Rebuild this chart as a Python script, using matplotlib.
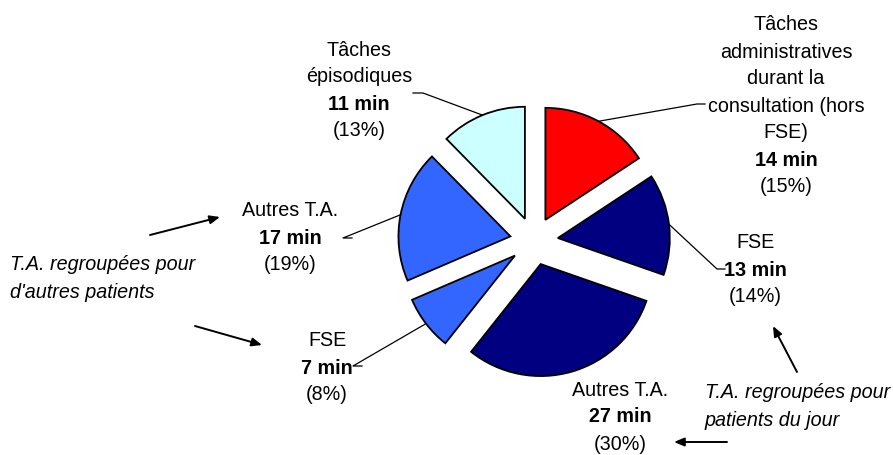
#!/usr/bin/env python3

import numpy as np
import matplotlib.pyplot as plt

# slices, clockwise from 12 o'clock
minutes = [14, 13, 27, 7, 17, 11]
percents = [15, 14, 30, 8, 19, 13]
names = [
    ["Tâches", "administratives", "durant la", "consultation (hors", "FSE)"],
    ["FSE"],
    ["Autres T.A."],
    ["FSE"],
    ["Autres T.A."],
    ["Tâches", "épisodiques"],
]
colors = ["#FF0000", "#000080", "#000080", "#3366FF", "#3366FF", "#CCFFFF"]

W, H = 893, 455


def Y(py):
    # pixel row -> data y
    return H - py


def main():
    plt.rcParams["font.family"] = ["Liberation Sans", "DejaVu Sans"]
    fs = 14.2
    lh = 27

    fig = plt.figure(figsize=(W / 100, H / 100), dpi=100)
    ax = fig.add_axes([0, 0, 1, 1])

    radius = 112
    # pie's explode is in data units here (pixels)
    wedges, _ = ax.pie(minutes, colors=colors, startangle=90, counterclock=False,
                       center=(534, Y(241)), radius=radius,
                       explode=[24] * len(minutes),
                       wedgeprops=dict(edgecolor="black", linewidth=1.3))

    ax.set_xlim(0, W)
    ax.set_ylim(0, H)
    ax.set_aspect("auto")
    ax.axis("off")

    # -------- labels --------
    # (center x, first line y in px) for each slice
    label_pos = [(786, 25), (755, 243), (620, 390), (327, 341), (290, 211), (359, 50)]
    # leader line: points on the text side (px)
    leader = [
        [(705, 104), (697, 104)],
        [(725, 269), (717, 269)],
        None,
        [(362, 366), (353, 366)],
        [(352, 238), (343, 238)],
        [(413, 93), (423, 93)],
    ]

    for i, w in enumerate(wedges):
        lines = names[i] + [f"{minutes[i]} min", f"({percents[i]}%)"]
        cx, y0 = label_pos[i]
        n = len(names[i])
        for k, s in enumerate(lines):
            ax.text(cx, Y(y0 + k * lh), s, ha="center", va="center", fontsize=fs,
                    fontweight="bold" if k == n else "normal")

        if leader[i] is not None:
            mid = np.deg2rad((w.theta1 + w.theta2) / 2)
            wx, wy = w.center
            ax_pt = (wx + w.r * np.cos(mid), wy + w.r * np.sin(mid))
            pts = [(x, Y(y)) for x, y in leader[i]]
            if i == 5:
                xs = [pts[0][0], pts[1][0], ax_pt[0]]
                ys = [pts[0][1], pts[1][1], ax_pt[1]]
            else:
                xs = [ax_pt[0], pts[1][0], pts[0][0]]
                ys = [ax_pt[1], pts[1][1], pts[0][1]]
            ax.plot(xs, ys, color="black", lw=0.9)

    # -------- group notes + arrows --------
    ax.text(10, Y(265), "T.A. regroupées pour", ha="left", va="center",
            fontsize=fs, style="italic")
    ax.text(10, Y(292), "d'autres patients", ha="left", va="center",
            fontsize=fs, style="italic")
    ax.text(705, Y(393), "T.A. regroupées pour", ha="left", va="center",
            fontsize=fs, style="italic")
    ax.text(705, Y(420), "patients du jour", ha="left", va="center",
            fontsize=fs, style="italic")

    arrows = [
        ((150, 235), (220, 217)),
        ((195, 326), (262, 345)),
        ((797, 372), (773, 326)),
        ((727, 442), (674, 442)),
    ]
    for (x0, y0), (x1, y1) in arrows:
        ax.annotate("", xy=(x1, Y(y1)), xytext=(x0, Y(y0)),
                    arrowprops=dict(arrowstyle="-|>,head_length=0.6,head_width=0.25",
                                    color="black", lw=1.4, shrinkA=0, shrinkB=0))

    fig.savefig("out.png", dpi=100)


if __name__ == "__main__":
    main()
